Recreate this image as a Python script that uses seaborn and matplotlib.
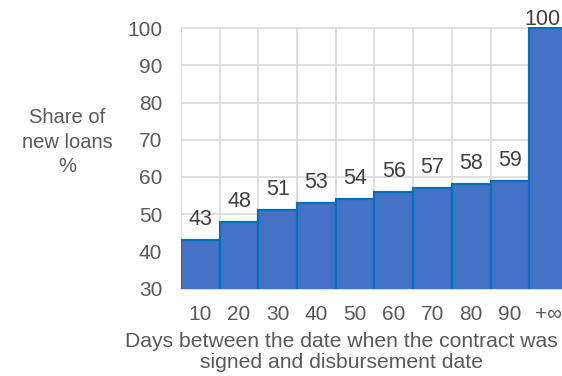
import matplotlib
matplotlib.use("Agg")
import matplotlib.pyplot as plt
import seaborn as sns
import pandas as pd

# Days-to-disbursement buckets and cumulative share of new loans (%)
day_buckets = ["10", "20", "30", "40", "50", "60", "70", "80", "90", "+\u221e"]
share_values = [43, 48, 51, 53, 54, 56, 57, 58, 59, 100]
y_ticks = [30, 40, 50, 60, 70, 80, 90, 100]

sns.set_theme(style="white")
plt.rcParams["font.family"] = ["Liberation Sans", "DejaVu Sans"]

df = pd.DataFrame({"bucket": day_buckets, "share": share_values})

W, H = 562, 376
fig = plt.figure(figsize=(W / 100, H / 100), dpi=100)
ax = fig.add_axes([181 / W, 1 - 288.5 / H, (568 - 181) / W, (288.5 - 27) / H])

sns.barplot(data=df, x="bucket", y="share", order=day_buckets, ax=ax,
            color="#4472C4", saturation=1, width=1.0,
            edgecolor="#0070C0", linewidth=1.6, zorder=3)

ax.set_ylim(30, 100.3)
ax.set_xlim(-0.5, len(day_buckets) - 0.5)
ax.set_yticks(y_ticks)
ax.set_xticks(range(len(day_buckets)))
ax.set_xticks([i - 0.5 for i in range(len(day_buckets) + 1)], minor=True)

grid_c = "#D9D9D9"
ax.grid(False)
ax.yaxis.grid(True, color=grid_c, linewidth=1.2, zorder=0)
ax.xaxis.grid(True, which="minor", color=grid_c, linewidth=1.2, zorder=0)
ax.set_axisbelow(True)
for s in ax.spines.values():
    s.set_visible(False)
ax.spines["bottom"].set_visible(True)
ax.spines["bottom"].set_color(grid_c)
ax.spines["bottom"].set_linewidth(1.2)

txt_c = "#595959"
ax.tick_params(axis="both", which="both", length=0, labelsize=15, colors=txt_c)
ax.tick_params(axis="x", pad=12)
ax.tick_params(axis="y", pad=13.5)
ax.set_xlabel("")
ax.set_ylabel("")

# value labels above each bar; the tallest one is kept inside the figure
for i, v in enumerate(share_values):
    off = 15 if v < 95 else 3
    dx = 0 if v < 95 else -6
    ax.annotate(f"{v}", xy=(i, v), xytext=(dx, off), textcoords="offset pixels",
                ha="center", va="baseline", fontsize=15.5, color="#404040",
                annotation_clip=False)

fig.text(67 / W, 1 - 142 / H, "Share of\nnew loans\n%", ha="center", va="center",
         fontsize=14.5, color=txt_c, linespacing=1.38)
fig.text(341 / W, 1 - 352 / H,
         "Days between the date when the contract was\nsigned and disbursement date",
         ha="center", va="center", fontsize=15.2, color=txt_c, linespacing=1.15)

fig.savefig("out.png", dpi=100)
